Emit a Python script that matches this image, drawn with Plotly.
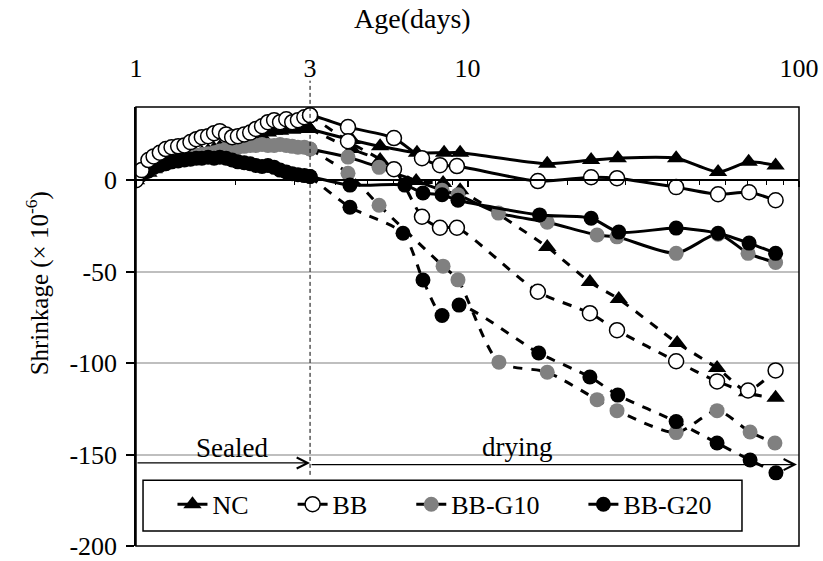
import math
import plotly.graph_objects as go

# ---------------- data ----------------
# sealed curing period (age 1 -> 3 days), dense readings
SEAL_AGE = [1.00, 1.04, 1.09, 1.13, 1.18, 1.23, 1.28, 1.34, 1.40, 1.46, 1.52, 1.58, 1.65, 1.72, 1.79,
            1.87, 1.95, 2.03, 2.12, 2.21, 2.30, 2.40, 2.50, 2.61, 2.72, 2.84, 2.96, 3.08, 3.22, 3.35]
NC_SEAL = [0, 2, 4, 6, 8, 9, 10, 11, 12, 13, 14, 15, 16, 17, 18,
           19, 19, 20, 21, 22, 23, 24, 26, 27, 27, 28, 27.5, 28, 29, 28]
BB_SEAL = [0, 5.5, 11, 13, 15, 17, 18, 18.5, 19, 20.8, 22.4, 23.5, 24, 25.7, 26.8,
           25, 23.5, 24, 25, 26, 28, 29.5, 31.7, 32.8, 31.7, 33.3, 31.7, 32.8, 34.4, 35.5]
G10_SEAL = [0, 3, 5, 7, 8, 9, 10, 11, 12, 13, 13.5, 14, 14.5, 15, 16,
            17, 18, 18, 18.5, 19, 19, 19.5, 19, 19, 19.5, 19, 18.5, 18, 18, 17]
G20_SEAL = [0, 3, 5, 7, 8, 9, 10, 10.5, 11, 11.5, 12, 12, 12.5, 12, 12.5,
            12, 11, 10, 9.5, 9, 8, 7.5, 8, 7, 5.5, 4.5, 3.5, 3, 2.5, 2]

# sealed specimens after 3 days (solid lines)
NC_S_AGE = [4.48, 5.45, 7.04, 8.5, 9.5, 17.4, 23.6, 28.4, 42.6, 57.0, 70.5, 85.0]
NC_S = [22, 18.5, 15, 15, 15, 9, 11, 12, 12, 4.5, 10, 8]
BB_S_AGE = [4.36, 6.0, 7.29, 8.26, 9.29, 16.3, 23.6, 28.25, 42.6, 57.0, 70.7, 85.0]
BB_S = [29, 23, 12, 8.2, 7.7, -0.5, 1.6, 1.1, -3.8, -7.7, -6.6, -11]
G10_S_AGE = [4.36, 5.41, 8.38, 9.36, 12.4, 17.4, 24.6, 28.25, 42.6, 57.0, 70.2, 85.0]
G10_S = [12.6, 7, -5.5, -8, -18, -23, -30, -31, -40, -29.5, -40, -45]
G20_S_AGE = [4.42, 6.47, 7.34, 8.38, 9.36, 16.5, 23.6, 28.6, 42.6, 57.0, 70.7, 85.0]
G20_S = [-2.7, -2.7, -7, -8, -11, -19, -20.8, -28.4, -26.2, -29, -34.4, -40]

# drying specimens from 3 days (dashed lines)
NC_D_AGE = [3.35, 4.48, 5.45, 7.0, 8.44, 9.5, 17.4, 23.4, 28.6, 42.9, 56.6, 69.7, 85.0]
NC_D = [28, 17, 11, -0.5, -1.6, -5.5, -36.6, -55.7, -65, -89, -102.7, -116, -119]
BB_D_AGE = [3.35, 4.36, 6.0, 7.29, 8.26, 9.29, 16.3, 23.4, 28.25, 42.6, 56.6, 70.2, 85.0]
BB_D = [35.5, 21.3, 6, -20, -26, -26, -61, -72.7, -82, -99, -110, -115, -104]
G10_D_AGE = [3.35, 4.36, 5.41, 8.44, 9.36, 12.44, 17.4, 24.6, 28.25, 42.6, 56.6, 71.2, 84.6]
G10_D = [17, 3.8, -13.7, -47, -54.5, -99.5, -105, -120, -126, -138, -126, -137.7, -143.7]
G20_D_AGE = [3.35, 4.42, 6.39, 7.34, 8.38, 9.43, 16.4, 23.4, 28.4, 42.6, 56.6, 71.2, 85.2]
G20_D = [2, -14.8, -29, -54.6, -74, -68.3, -94.5, -107.6, -117.5, -132, -143.7, -153, -160]

DRY_START = 3.35          # age where drying begins (labelled "3")
X_LABEL_VALS = [1, DRY_START, 10, 100]
X_LABEL_TEXT = ["1", "3", "10", "100"]
Y_TICKS = [-200, -150, -100, -50, 0]
Y_TICK_TEXT = ["-200", "-150", "-100", "-50", "0"]
MINOR_X = [2, 3, 4, 5, 6, 7, 8, 9, 20, 30, 40, 50, 60, 70, 80, 90]

FONT = "Liberation Serif, Times New Roman, serif"
FS = 26
PAD = "\u00a0" * 6   # extra spacing between legend entries

series = {
    "NC": dict(seal=NC_SEAL, s_age=NC_S_AGE, s=NC_S, d_age=NC_D_AGE, d=NC_D,
               marker=dict(symbol="triangle-up", size=16, color="black", line=dict(width=0)), rank=1),
    "BB": dict(seal=BB_SEAL, s_age=BB_S_AGE, s=BB_S, d_age=BB_D_AGE, d=BB_D,
               marker=dict(symbol="circle", size=15, color="white", line=dict(width=1.5, color="black")), rank=2),
    "BB-G10": dict(seal=G10_SEAL, s_age=G10_S_AGE, s=G10_S, d_age=G10_D_AGE, d=G10_D,
                   marker=dict(symbol="circle", size=15, color="#808080", line=dict(width=0)), rank=3),
    "BB-G20": dict(seal=G20_SEAL, s_age=G20_S_AGE, s=G20_S, d_age=G20_D_AGE, d=G20_D,
                   marker=dict(symbol="circle", size=15, color="black", line=dict(width=0)), rank=4),
}
draw_order = ["NC", "BB-G10", "BB-G20", "BB"]

fig = go.Figure()
for name in draw_order:
    s = series[name]
    fig.add_trace(go.Scatter(
        x=SEAL_AGE + s["s_age"], y=s["seal"] + s["s"], mode="lines+markers",
        name=name + (PAD if name != "BB-G20" else ""),
        line=dict(color="black", width=3, shape="spline", smoothing=0.7),
        marker=s["marker"], legendrank=s["rank"], showlegend=True, hoverinfo="skip"))
    fig.add_trace(go.Scatter(
        x=s["d_age"], y=s["d"], mode="lines+markers", name=name + " drying",
        line=dict(color="black", width=3, dash="dash", shape="spline", smoothing=0.7),
        marker=s["marker"], showlegend=False, hoverinfo="skip"))

# empty trace to carry the top label axis
fig.add_trace(go.Scatter(x=[], y=[], xaxis="x2", showlegend=False, hoverinfo="skip"))

fig.update_layout(
    width=823, height=561,
    margin=dict(l=136, r=24, t=107, b=15, autoexpand=False),
    paper_bgcolor="white", plot_bgcolor="white",
    font=dict(family=FONT, size=FS, color="black"),
    xaxis=dict(type="log", range=[0, 2], anchor="free", position=200 / 240, automargin=False,
               showline=True, linecolor="black", linewidth=1.5,
               tickmode="array", tickvals=[1, 10, 100], ticks="outside", ticklen=6,
               tickwidth=1.5, tickcolor="black", showticklabels=False,
               showgrid=False, zeroline=False,
               minor=dict(tickmode="array", tickvals=MINOR_X, ticks="outside", ticklen=4,
                          tickwidth=1.2, tickcolor="black", showgrid=False)),
    xaxis2=dict(type="log", range=[0, 2], overlaying="x", side="top", anchor="y", automargin=False,
                tickmode="array", tickvals=X_LABEL_VALS, ticktext=X_LABEL_TEXT,
                ticks="", showline=False, showgrid=False, zeroline=False,
                ticklabelstandoff=24, ticklabeloverflow="allow", tickfont=dict(size=FS)),
    yaxis=dict(range=[-200, 40], tickmode="array", tickvals=Y_TICKS, ticktext=Y_TICK_TEXT,
               automargin=False, ticklabeloverflow="allow",
               ticks="outside", ticklen=8, tickwidth=1.5, tickcolor="black",
               showline=True, linecolor="black", linewidth=1.5,
               showgrid=True, gridcolor="#bfbfbf", gridwidth=1.5, zeroline=False,
               ticklabelstandoff=4, tickfont=dict(size=FS)),
    legend=dict(orientation="h", x=0.055, y=0.095, xanchor="left", yanchor="middle",
                bgcolor="rgba(0,0,0,0)", borderwidth=0, font=dict(size=FS),
                traceorder="normal"),
    shapes=[
        # plot border
        dict(type="rect", xref="x domain", yref="y domain", x0=0, x1=1, y0=0, y1=1,
             line=dict(color="black", width=1.5), fillcolor="rgba(0,0,0,0)", layer="above"),
        # legend box
        dict(type="rect", xref="paper", yref="paper", x0=0.0106, x1=0.914, y0=0.034, y1=0.150,
             line=dict(color="black", width=1.5), fillcolor="rgba(0,0,0,0)", layer="above"),
        # dashed line at start of drying
        dict(type="line", xref="x", yref="paper", x0=DRY_START, x1=DRY_START, y0=0.162, y1=1.06,
             line=dict(color="black", width=1, dash="4px,3px")),
    ],
    annotations=[
        dict(x=math.log10(DRY_START), y=-154.6, ax=0, ay=-154.6, xref="x", yref="y",
             axref="x", ayref="y", text="", showarrow=True, arrowhead=5, arrowsize=1.8,
             arrowwidth=1.2, arrowcolor="black"),
        dict(x=math.log10(98.6), y=-155.5, ax=math.log10(DRY_START), ay=-155.5, xref="x", yref="y",
             axref="x", ayref="y", text="", showarrow=True, arrowhead=5, arrowsize=1.8,
             arrowwidth=1.2, arrowcolor="black"),
        dict(text="Sealed", x=0.1448, y=0.2232, xref="paper", yref="paper", showarrow=False,
             font=dict(size=FS + 1), xanchor="center", yanchor="middle"),
        dict(text="drying", x=0.576, y=0.2255, xref="paper", yref="paper", showarrow=False,
             font=dict(size=FS + 1), xanchor="center", yanchor="middle"),
        dict(text="Age(days)", x=0.4163, y=1.2027, xref="paper", yref="paper", showarrow=False,
             font=dict(size=28), xanchor="center", yanchor="middle"),
        dict(text="Shrinkage (× 10<sup>-6</sup>)", x=-0.148, y=0.598, xref="paper", yref="paper",
             showarrow=False, textangle=-90, font=dict(size=25), xanchor="center", yanchor="middle"),
    ],
)

fig.write_html("out.html")
